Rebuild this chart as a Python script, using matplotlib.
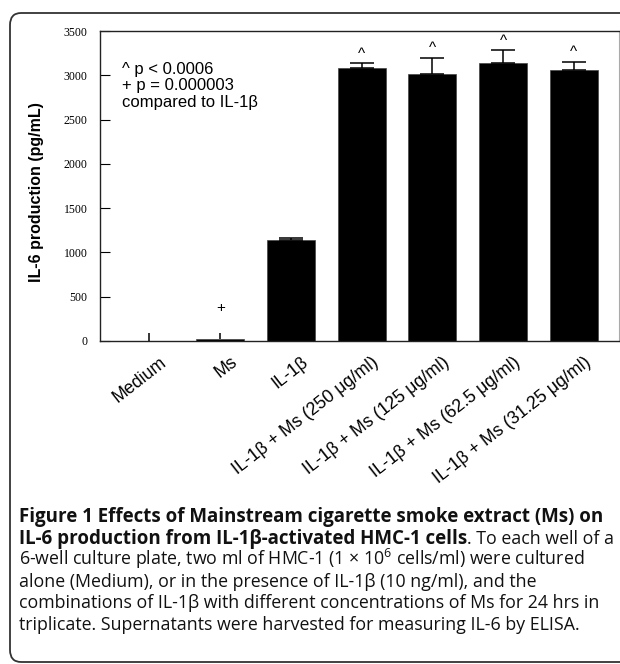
import numpy as np
import matplotlib
matplotlib.use("Agg")
import matplotlib.pyplot as plt
import matplotlib.transforms as mtransforms
from matplotlib.patches import FancyBboxPatch

# IL-6 production (pg/mL), mean and upper error
groups = ["Medium", "Ms", "IL-1β",
          "IL-1β + Ms (250 μg/ml)", "IL-1β + Ms (125 μg/ml)",
          "IL-1β + Ms (62.5 μg/ml)", "IL-1β + Ms (31.25 μg/ml)"]
means = [3, 20, 1140, 3085, 3010, 3140, 3065]
errors = [90, 75, 28, 50, 185, 140, 85]
marks = ["", "+", "", "^", "^", "^", "^"]

yticks = [0, 500, 1000, 1500, 2000, 2500, 3000, 3500]
note = "^ p < 0.0006\n+ p = 0.000003\ncompared to IL-1β"

caption = [
    [("Figure 1 Effects of Mainstream cigarette smoke extract (Ms) on", "bold")],
    [("IL-6 production from IL-1β-activated HMC-1 cells", "bold"),
     (". To each well of a", "normal")],
    [("6-well culture plate, two ml of HMC-1 (1 × 10$^{6}$ cells/ml) were cultured", "normal")],
    [("alone (Medium), or in the presence of IL-1β (10 ng/ml), and the", "normal")],
    [("combinations of IL-1β with different concentrations of Ms for 24 hrs in", "normal")],
    [("triplicate. Supernatants were harvested for measuring IL-6 by ELISA.", "normal")],
]

plt.rcParams["mathtext.fontset"] = "custom"
plt.rcParams["mathtext.rm"] = "Open Sans"

W, H = 620, 664
fig = plt.figure(figsize=(W / 100, H / 100), dpi=100)

# rounded outer frame
frame = FancyBboxPatch((10 / W, 1 - 662 / H), 640 / W, 649 / H,
                       boxstyle="round,pad=0,rounding_size=0.018",
                       transform=fig.transFigure, fill=False,
                       edgecolor="#333333", lw=1.3)
fig.patches.append(frame)

ax = fig.add_axes([100 / W, 1 - 341 / H, 519 / W, 310 / H])
x = np.arange(len(groups))
ax.bar(x, means, width=0.68, color="black", edgecolor="#444444", lw=0.5, zorder=2)
for xi, m, e in zip(x, means, errors):
    cap = 0 if m < 100 else 8.6
    ax.errorbar(xi, m, yerr=[[0], [e]], fmt="none", ecolor="black",
                elinewidth=1.1, capsize=cap, capthick=1.1, zorder=3)

for xi, m, e, s in zip(x, means, errors, marks):
    if not s:
        continue
    off = 2 if s == "^" else 13
    ax.annotate(s, (xi, m + e), xytext=(0, off), textcoords="offset points",
                ha="center", va="bottom", fontsize=11, family="Liberation Sans")

ax.set_xlim(-0.7, 6.64)
ax.set_ylim(0, 3500)
ax.set_yticks(yticks)
ax.set_yticklabels([str(t) for t in yticks], family="Liberation Serif", fontsize=8.5)
ax.tick_params(axis="y", direction="in", length=7, width=0.8, pad=9)
ax.tick_params(axis="x", length=0, pad=9)
ax.set_xticks(x)
ax.set_xticklabels(groups, rotation=38, ha="right", rotation_mode="anchor",
                   family="Liberation Sans", fontsize=12.8)
shift = mtransforms.ScaledTranslation(10 / 100, 0, fig.dpi_scale_trans)
for lab in ax.get_xticklabels():
    lab.set_transform(lab.get_transform() + shift)

for side in ["left", "bottom", "top"]:
    ax.spines[side].set_linewidth(1.0)
    ax.spines[side].set_color("#222222")
ax.spines["right"].set_color("#aaaaaa")
ax.spines["right"].set_linewidth(0.8)

ax.set_ylabel("IL-6 production (pg/mL)", family="Liberation Sans",
              fontweight="bold", fontsize=11.5)
ax.yaxis.set_label_coords(-0.108, 0.48)

ax.text(0.043, 0.90, note, transform=ax.transAxes, ha="left", va="top",
        family="Liberation Sans", fontsize=12, linespacing=1.12)

# caption below the chart
fig.canvas.draw()
renderer = fig.canvas.get_renderer()
base0, step = 522, 21.6
for i, pieces in enumerate(caption):
    xpx = 19
    ypx = base0 + i * step
    for txt, wt in pieces:
        size = 13.5 if wt == "bold" else 12.8
        t = fig.text(xpx / W, 1 - ypx / H, txt, ha="left", va="baseline",
                     family="Open Sans", fontweight=wt, fontsize=size,
                     color="#111111")
        bb = t.get_window_extent(renderer=renderer)
        xpx += bb.width

fig.savefig("out.png", dpi=100)
